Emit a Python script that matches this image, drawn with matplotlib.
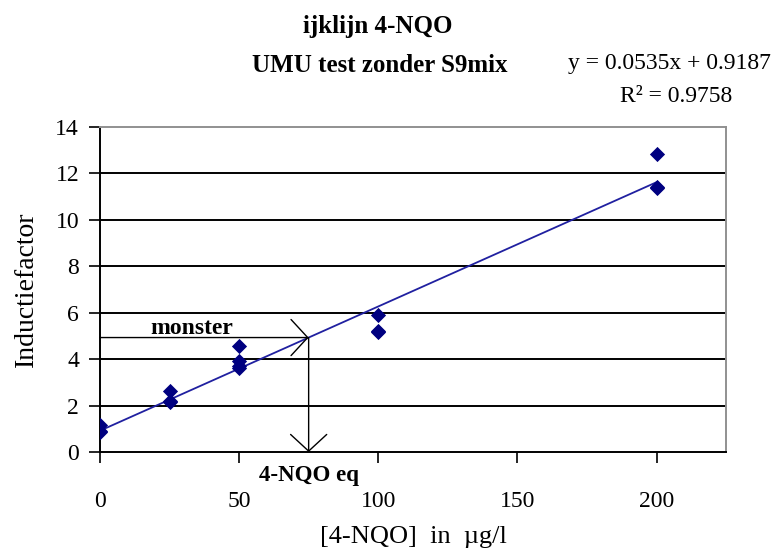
import numpy as np
import matplotlib
matplotlib.use("Agg")
import matplotlib.pyplot as plt

# calibration data: 4-NQO concentration (ug/l) vs induction factor
conc = [0, 0, 0, 25, 25, 25, 50, 50, 50, 50, 100, 100, 100, 200, 200, 200]
induction = [1.15, 0.9, 0.85, 2.63, 2.2, 2.15, 4.57, 3.9, 3.6, 3.7, 5.9, 5.2, 5.15, 12.85, 11.42, 11.35]
slope, intercept = 0.0535, 0.9187
r2 = 0.9758
monster_y = 4.93
x_ticks = [0, 50, 100, 150, 200]
y_ticks = [0, 2, 4, 6, 8, 10, 12, 14]

serif = "Liberation Serif"
fig = plt.figure(figsize=(7.75, 5.54), dpi=100)
ax = fig.add_axes([0.129, 0.184, 0.808, 0.587])

for yv in y_ticks[1:-1]:
    ax.axhline(yv, color="black", lw=1.4, zorder=1)

fit_x = np.array([0, 200])
ax.plot(fit_x, slope * fit_x + intercept, color="#2020a0", lw=1.3, zorder=2)
ax.scatter(conc, induction, marker="D", s=60, color="#000080", zorder=3, linewidths=0)

eq_x = (monster_y - intercept) / slope
arrow = dict(arrowstyle="->,head_length=1.2,head_width=1.3", color="black", lw=1.0,
             shrinkA=0, shrinkB=0, mutation_scale=10)
ax.annotate("", xy=(eq_x, monster_y), xytext=(0, monster_y), arrowprops=arrow, zorder=4)
ax.annotate("", xy=(eq_x, 0), xytext=(eq_x, monster_y), arrowprops=arrow, zorder=4)
ax.text(33, 5.3, "monster", fontsize=17, fontweight="bold", family=serif, ha="center", va="center")
ax.text(eq_x, -1.0, "4-NQO eq", fontsize=16.5, fontweight="bold", family=serif,
        ha="center", va="center", clip_on=False)

ax.set_xlim(0, 225)
ax.set_ylim(0, 14)
ax.set_xticks(x_ticks)
ax.set_yticks(y_ticks)
ax.tick_params(axis="both", direction="out", length=8, width=1.2, color="black")
ax.tick_params(axis="x", pad=20, labelsize=17)
ax.tick_params(axis="y", pad=7, labelsize=17)
for lab in ax.get_xticklabels() + ax.get_yticklabels():
    lab.set_family(serif)
ax.spines["left"].set_color("black")
ax.spines["bottom"].set_color("black")
ax.spines["left"].set_linewidth(1.4)
ax.spines["bottom"].set_linewidth(1.4)
ax.spines["top"].set_color("#909090")
ax.spines["right"].set_color("#909090")
ax.spines["top"].set_linewidth(1.4)
ax.spines["right"].set_linewidth(1.4)

ax.set_ylabel("Inductiefactor", fontsize=20, family=serif, labelpad=12)
ax.set_xlabel("[4-NQO]  in  \u00b5g/l", fontsize=19, family=serif, labelpad=10)

fig.text(378 / 775, 1 - 26 / 554, "ijklijn 4-NQO", fontsize=18, fontweight="bold", family=serif,
         ha="center", va="center")
fig.text(380 / 775, 1 - 66 / 554, "UMU test zonder S9mix", fontsize=18, fontweight="bold", family=serif,
         ha="center", va="center")
fig.text(771 / 775, 1 - 63 / 554, f"y = {slope}x + {intercept}", fontsize=17, family=serif,
         ha="right", va="center")
fig.text(732 / 775, 1 - 97 / 554, f"R\u00b2 = {r2}", fontsize=17, family=serif,
         ha="right", va="center")

plt.savefig("out.png", dpi=100)
